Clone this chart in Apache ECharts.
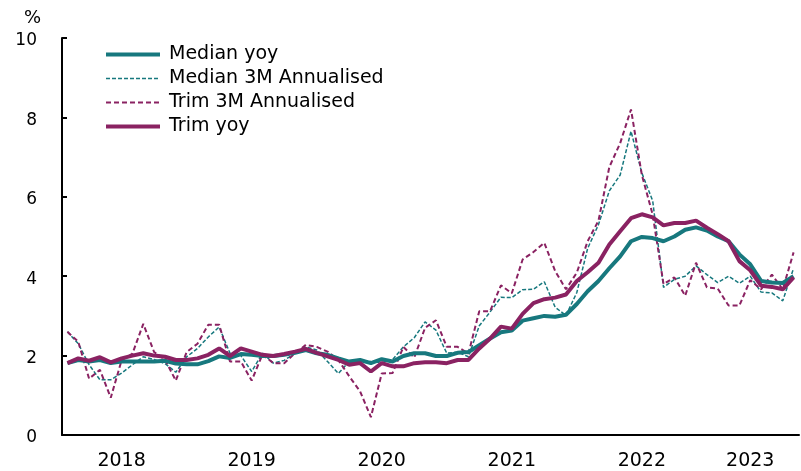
<!DOCTYPE html>
<html>
<head>
<meta charset="utf-8">
<script src="https://cdn.jsdelivr.net/npm/echarts@6/dist/echarts.min.js"></script>
<style>
  html, body { margin: 0; padding: 0; background: #ffffff; }
  #chart { width: 801px; height: 471px; }
</style>
</head>
<body>
<div id="chart"></div>
<script>
// Monthly observations, Jan 2018 – Aug 2023 (per cent)
const years = [2018, 2019, 2020, 2021, 2022, 2023];
const months = [];
years.forEach(function (y) {
  for (let m = 1; m <= 12; m++) {
    if (y === 2023 && m > 8) break;
    months.push(y + '-' + (m < 10 ? '0' + m : m));
  }
});

const medianYoy = [
  1.81, 1.89, 1.85, 1.89, 1.81, 1.85, 1.85, 1.85, 1.85, 1.87, 1.80, 1.78,
  1.78, 1.86, 1.98, 1.94, 2.04, 2.02, 1.99, 1.99, 2.02, 2.07, 2.14, 2.06,
  2.02, 1.93, 1.85, 1.89, 1.81, 1.91, 1.85, 1.99, 2.06, 2.06, 1.99, 1.99,
  2.07, 2.09, 2.26, 2.43, 2.59, 2.63, 2.88, 2.94, 3.00, 2.98, 3.03, 3.30,
  3.62, 3.88, 4.20, 4.50, 4.88, 4.99, 4.96, 4.88, 5.00, 5.17, 5.23, 5.15,
  5.00, 4.88, 4.55, 4.30, 3.88, 3.84, 3.83, 4.00
];

const median3m = [
  2.60, 2.30, 1.77, 1.39, 1.39, 1.56, 1.77, 1.97, 1.90, 1.80, 1.58, 1.97,
  2.18, 2.47, 2.72, 2.06, 2.00, 1.60, 2.06, 1.81, 1.88, 2.06, 2.22, 2.14,
  1.85, 1.55, 1.85, 1.89, 1.85, 1.82, 1.90, 2.22, 2.45, 2.85, 2.64, 2.06,
  2.09, 1.97, 2.75, 3.10, 3.47, 3.46, 3.66, 3.67, 3.86, 3.22, 3.01, 3.59,
  4.70, 5.30, 6.15, 6.55, 7.65, 6.60, 5.90, 3.72, 3.92, 4.00, 4.26, 4.04,
  3.84, 4.00, 3.82, 4.00, 3.60, 3.58, 3.38, 4.20
];

const trim3m = [
  2.60, 2.35, 1.42, 1.64, 0.94, 1.88, 2.05, 2.80, 2.09, 1.90, 1.37, 2.09,
  2.30, 2.78, 2.78, 1.85, 1.85, 1.37, 2.03, 1.81, 1.81, 2.06, 2.27, 2.22,
  2.10, 1.89, 1.48, 1.10, 0.45, 1.55, 1.56, 2.22, 1.95, 2.70, 2.89, 2.22,
  2.22, 2.05, 3.12, 3.12, 3.77, 3.57, 4.42, 4.61, 4.84, 4.13, 3.67, 4.09,
  4.88, 5.40, 6.75, 7.35, 8.20, 6.55, 5.55, 3.80, 3.97, 3.51, 4.34, 3.72,
  3.69, 3.26, 3.26, 3.90, 3.67, 4.04, 3.67, 4.60
];

const trimYoy = [
  1.81, 1.93, 1.87, 1.96, 1.83, 1.93, 2.00, 2.06, 2.00, 1.97, 1.89, 1.89,
  1.93, 2.02, 2.18, 1.99, 2.18, 2.10, 2.02, 1.99, 2.04, 2.10, 2.17, 2.07,
  1.98, 1.89, 1.77, 1.81, 1.60, 1.81, 1.73, 1.73, 1.81, 1.83, 1.83, 1.81,
  1.89, 1.89, 2.18, 2.43, 2.73, 2.68, 3.05, 3.32, 3.42, 3.46, 3.54, 3.88,
  4.10, 4.34, 4.80, 5.13, 5.46, 5.56, 5.48, 5.28, 5.34, 5.34, 5.40, 5.22,
  5.06, 4.88, 4.38, 4.15, 3.76, 3.73, 3.67, 3.97
];

// Positions of the year captions along the month axis
const yearLabelIndex = [5, 17, 29, 41, 53, 63];
const yTicks = { min: 0, max: 10, interval: 2 };

const TEAL = '#17787e';
const PURPLE = '#8a2262';
const FONT = 'DejaVu Sans';

const chart = echarts.init(document.getElementById('chart'), null, { renderer: 'canvas' });

chart.setOption({
  animation: false,
  backgroundColor: '#ffffff',
  textStyle: { fontFamily: FONT, color: '#000' },
  title: {
    text: '%',
    left: 19,
    top: 4,
    textStyle: { fontFamily: FONT, fontSize: 18, fontWeight: 'normal', color: '#000' }
  },
  grid: { left: 62, right: 2, top: 38, bottom: 32, containLabel: false },
  legend: {
    orient: 'vertical',
    left: 99,
    top: 40,
    itemWidth: 54,
    itemHeight: 14,
    itemGap: 5,
    itemStyle: { opacity: 0 },
    lineStyle: { width: 'inherit' },
    textStyle: { fontFamily: FONT, fontSize: 19, color: '#000', padding: [0, 0, 0, 4] },
    data: ['Median yoy', 'Median 3M Annualised', 'Trim 3M Annualised', 'Trim yoy']
  },
  xAxis: {
    type: 'category',
    data: months,
    boundaryGap: true,
    axisLine: { lineStyle: { color: '#000', width: 2 } },
    axisTick: {
      inside: true,
      length: 5,
      lineStyle: { color: '#000', width: 2 },
      interval: function (i) { return i % 12 === 0; }
    },
    axisLabel: {
      interval: function (i) { return yearLabelIndex.indexOf(i) >= 0; },
      formatter: function (v) { return v.slice(0, 4); },
      fontFamily: FONT,
      fontSize: 19,
      color: '#000',
      margin: 17
    },
    splitLine: { show: false }
  },
  yAxis: {
    type: 'value',
    min: yTicks.min,
    max: yTicks.max,
    interval: yTicks.interval,
    axisLine: { show: true, lineStyle: { color: '#000', width: 2 } },
    axisTick: { show: true, inside: true, length: 5, lineStyle: { color: '#000', width: 2 } },
    axisLabel: {
      fontFamily: FONT,
      fontSize: 17,
      color: '#000',
      margin: 25,
      verticalAlign: 'top',
      lineHeight: 6
    },
    splitLine: { show: false }
  },
  series: [
    {
      name: 'Median yoy',
      type: 'line',
      data: medianYoy,
      symbol: 'none',
      z: 3,
      lineStyle: { color: TEAL, width: 4 },
      itemStyle: { color: TEAL }
    },
    {
      name: 'Median 3M Annualised',
      type: 'line',
      data: median3m,
      symbol: 'none',
      z: 2,
      lineStyle: { color: TEAL, width: 1.5, type: [4, 2] },
      itemStyle: { color: TEAL }
    },
    {
      name: 'Trim 3M Annualised',
      type: 'line',
      data: trim3m,
      symbol: 'none',
      z: 2,
      lineStyle: { color: PURPLE, width: 2, type: [5, 3] },
      itemStyle: { color: PURPLE }
    },
    {
      name: 'Trim yoy',
      type: 'line',
      data: trimYoy,
      symbol: 'none',
      z: 4,
      lineStyle: { color: PURPLE, width: 4 },
      itemStyle: { color: PURPLE }
    }
  ]
});
</script>
</body>
</html>
